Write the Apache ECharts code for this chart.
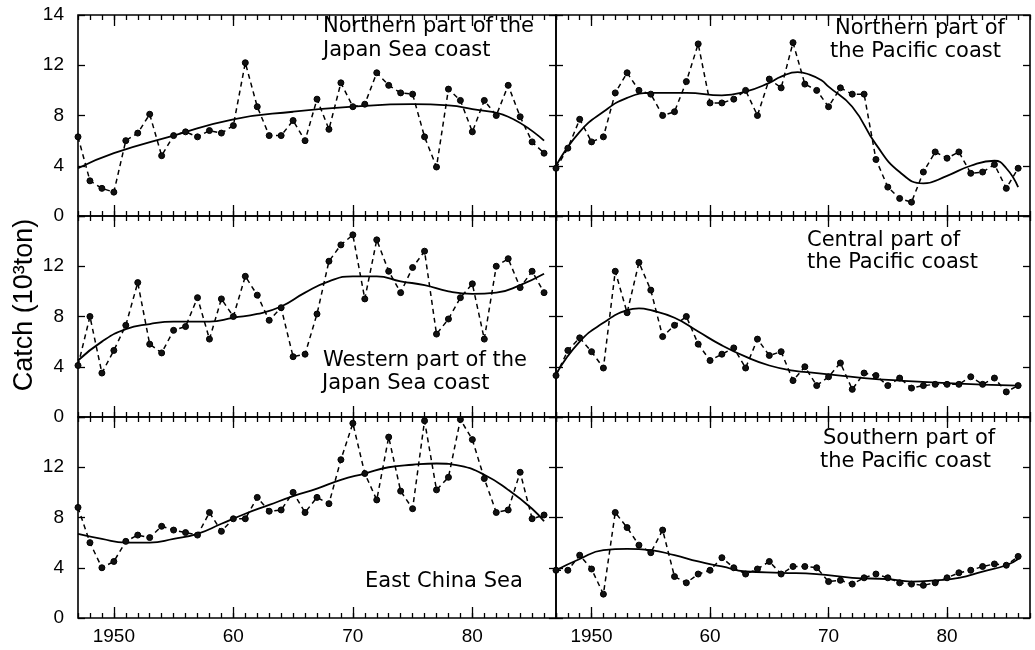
<!DOCTYPE html>
<html>
<head>
<meta charset="utf-8">
<title>Catch by region</title>
<script src="https://cdn.jsdelivr.net/npm/echarts@6/dist/echarts.min.js"></script>
<style>
  html, body { margin: 0; padding: 0; background: #fff; }
  #chart { width: 1035px; height: 650px; }
</style>
</head>
<body>
<div id="chart"></div>
<script>
// Years of the annual catch records
const years = [1947, 1948, 1949, 1950, 1951, 1952, 1953, 1954, 1955, 1956,
  1957, 1958, 1959, 1960, 1961, 1962, 1963, 1964, 1965, 1966,
  1967, 1968, 1969, 1970, 1971, 1972, 1973, 1974, 1975, 1976,
  1977, 1978, 1979, 1980, 1981, 1982, 1983, 1984, 1985, 1986];

// Annual catch (10^3 ton)
const northJapanSea = [6.3, 2.8, 2.2, 1.9, 6.0, 6.6, 8.1, 4.8, 6.4, 6.7,
  6.3, 6.8, 6.6, 7.2, 12.2, 8.7, 6.4, 6.4, 7.6, 6.0,
  9.3, 6.9, 10.6, 8.7, 8.9, 11.4, 10.4, 9.8, 9.7, 6.3,
  3.9, 10.1, 9.2, 6.7, 9.2, 8.0, 10.4, 7.9, 5.9, 5.0];
const northPacific = [3.8, 5.4, 7.7, 5.9, 6.3, 9.8, 11.4, 10.0, 9.7, 8.0,
  8.3, 10.7, 13.7, 9.0, 9.0, 9.3, 10.0, 8.0, 10.9, 10.2,
  13.8, 10.5, 10.0, 8.7, 10.2, 9.7, 9.7, 4.5, 2.3, 1.4,
  1.1, 3.5, 5.1, 4.6, 5.1, 3.4, 3.5, 4.1, 2.2, 3.8];
const westJapanSea = [4.1, 8.0, 3.5, 5.3, 7.3, 10.7, 5.8, 5.1, 6.9, 7.2,
  9.5, 6.2, 9.4, 8.0, 11.2, 9.7, 7.7, 8.7, 4.8, 5.0,
  8.2, 12.4, 13.7, 14.5, 9.4, 14.1, 11.6, 9.9, 11.9, 13.2,
  6.6, 7.8, 9.5, 10.6, 6.2, 12.0, 12.6, 10.3, 11.6, 9.9];
const centralPacific = [3.3, 5.3, 6.3, 5.2, 3.9, 11.6, 8.3, 12.3, 10.1, 6.4,
  7.3, 8.0, 5.8, 4.5, 5.0, 5.5, 3.9, 6.2, 4.9, 5.2,
  2.9, 4.0, 2.5, 3.2, 4.3, 2.2, 3.5, 3.3, 2.5, 3.1,
  2.3, 2.5, 2.6, 2.6, 2.6, 3.2, 2.6, 3.1, 2.0, 2.5];
const eastChinaSea = [8.8, 6.0, 4.0, 4.5, 6.1, 6.6, 6.4, 7.3, 7.0, 6.8,
  6.6, 8.4, 6.9, 7.9, 7.9, 9.6, 8.5, 8.6, 10.0, 8.4,
  9.6, 9.1, 12.6, 15.5, 11.5, 9.4, 14.4, 10.1, 8.7, 15.7,
  10.2, 11.2, 15.8, 14.2, 11.1, 8.4, 8.6, 11.6, 7.9, 8.2];
const southPacific = [3.8, 3.8, 5.0, 3.9, 1.9, 8.4, 7.2, 5.8, 5.2, 7.0,
  3.3, 2.8, 3.5, 3.8, 4.8, 4.0, 3.5, 3.9, 4.5, 3.5,
  4.1, 4.1, 4.0, 2.9, 3.0, 2.7, 3.2, 3.5, 3.2, 2.8,
  2.7, 2.6, 2.8, 3.2, 3.6, 3.8, 4.1, 4.3, 4.2, 4.9];

// Smoothed trend curves, sampled off the figure
const northJapanSeaTrendYears = [1947, 1950, 1955, 1960, 1965, 1970, 1975, 1978, 1980, 1983, 1986];
const northJapanSeaTrend = [3.8, 5.0, 6.4, 7.7, 8.3, 8.7, 8.9, 8.8, 8.5, 7.9, 6.0];
const northPacificTrendYears = [1947, 1949, 1951, 1953, 1955, 1958, 1961, 1963, 1965, 1966, 1967.4, 1968.4, 1969.4, 1970, 1972, 1974, 1976, 1978, 1980, 1982, 1984, 1985, 1986];
const northPacificTrend = [4.0, 6.7, 8.3, 9.4, 9.8, 9.8, 9.6, 9.9, 10.6, 11.1, 11.45, 11.25, 10.8, 10.3, 8.7, 5.7, 3.5, 2.6, 3.2, 4.0, 4.4, 3.8, 2.3];
const westJapanSeaTrendYears = [1947, 1949, 1951, 1953, 1955, 1958, 1960, 1962, 1964, 1966, 1968, 1970, 1972, 1974, 1976, 1978, 1980, 1982, 1984, 1986];
const westJapanSeaTrend = [4.5, 6.0, 7.0, 7.4, 7.6, 7.6, 7.9, 8.2, 8.8, 9.9, 10.8, 11.2, 11.2, 10.8, 10.5, 10.0, 9.8, 9.9, 10.5, 11.4];
const centralPacificTrendYears = [1947, 1949, 1951, 1953, 1954, 1955, 1957, 1959, 1961, 1963, 1965, 1967, 1969, 1971, 1973, 1976, 1980, 1986];
const centralPacificTrend = [3.4, 6.0, 7.5, 8.5, 8.65, 8.5, 7.9, 6.8, 5.7, 4.8, 4.1, 3.7, 3.5, 3.3, 3.1, 2.9, 2.7, 2.5];
const eastChinaSeaTrendYears = [1947, 1949, 1951, 1953, 1955, 1957, 1959, 1961, 1963, 1965, 1967, 1969, 1971, 1973, 1975, 1977, 1979, 1981, 1983, 1985, 1986];
const eastChinaSeaTrend = [6.7, 6.3, 6.0, 6.0, 6.3, 6.7, 7.5, 8.3, 9.0, 9.7, 10.3, 11.0, 11.5, 12.0, 12.2, 12.3, 12.1, 11.4, 10.2, 8.7, 7.7];
const southPacificTrendYears = [1947, 1949, 1951, 1953, 1955, 1957, 1959, 1961, 1963, 1966, 1969, 1972, 1975, 1977, 1979, 1981, 1983, 1985, 1986];
const southPacificTrend = [3.8, 4.7, 5.4, 5.5, 5.4, 5.0, 4.5, 4.1, 3.7, 3.6, 3.5, 3.2, 3.1, 2.9, 3.0, 3.2, 3.7, 4.2, 4.7];

// Axis ticks and labels
const majorYears = [1950, 1960, 1970, 1980];

const zip = (xs, ys) => xs.map((x, i) => [x, ys[i]]);

const panels = [
  { col: 0, row: 0, obs: northJapanSea, tx: northJapanSeaTrendYears, ty: northJapanSeaTrend,
    title: [{ text: 'Northern part of the', x: 323, y: 28 }, { text: 'Japan Sea coast', x: 323, y: 52 }] },
  { col: 1, row: 0, obs: northPacific, tx: northPacificTrendYears, ty: northPacificTrend,
    title: [{ text: 'Northern part of', x: 835, y: 30 }, { text: 'the Pacific coast', x: 830, y: 53 }] },
  { col: 0, row: 1, obs: westJapanSea, tx: westJapanSeaTrendYears, ty: westJapanSeaTrend,
    title: [{ text: 'Western part of the', x: 323, y: 362 }, { text: 'Japan Sea coast', x: 322, y: 385 }] },
  { col: 1, row: 1, obs: centralPacific, tx: centralPacificTrendYears, ty: centralPacificTrend,
    title: [{ text: 'Central part of', x: 807, y: 242 }, { text: 'the Pacific coast', x: 807, y: 264 }] },
  { col: 0, row: 2, obs: eastChinaSea, tx: eastChinaSeaTrendYears, ty: eastChinaSeaTrend,
    title: [{ text: 'East China Sea', x: 365, y: 583 }] },
  { col: 1, row: 2, obs: southPacific, tx: southPacificTrendYears, ty: southPacificTrend,
    title: [{ text: 'Southern part of', x: 823, y: 440 }, { text: 'the Pacific coast', x: 820, y: 463 }] }
];

const colLeft = [78, 556];
const colWidth = [478, 474];
const rowTop = [15, 216, 417];
const rowHeight = 201;

const labelFont = { color: '#000', fontSize: 19, fontFamily: 'Liberation Sans, Arial, sans-serif' };
const tickStyle = { color: '#000', width: 1.3 };

const option = {
  animation: false,
  backgroundColor: '#fff',
  grid: [], xAxis: [], yAxis: [], series: [], graphic: []
};

panels.forEach((p, i) => {
  option.grid.push({
    left: colLeft[p.col], top: rowTop[p.row], width: colWidth[p.col], height: rowHeight,
    show: true, borderColor: '#000', borderWidth: 1.6, backgroundColor: 'transparent',
    containLabel: false, outerBoundsMode: 'none'
  });

  const xBase = { gridIndex: i, type: 'value', min: 1947, max: 1987, interval: 1,
    axisLine: { show: false }, splitLine: { show: false } };
  ['bottom', 'top'].forEach(pos => {
    // yearly minor ticks
    option.xAxis.push(Object.assign({}, xBase, {
      position: pos,
      axisTick: { inside: true, length: 5, lineStyle: tickStyle },
      axisLabel: { show: false }
    }));
    // decade ticks (and labels on the bottom row)
    option.xAxis.push(Object.assign({}, xBase, {
      position: pos,
      axisTick: { inside: true, length: 11, customValues: majorYears, lineStyle: tickStyle },
      axisLabel: Object.assign({
        show: pos === 'bottom' && p.row === 2,
        customValues: majorYears, margin: 9,
        formatter: v => (v === 1950 ? '1950' : String(v).slice(2))
      }, labelFont)
    }));
  });

  ['left', 'right'].forEach(pos => {
    option.yAxis.push({
      gridIndex: i, type: 'value', min: 0, max: 16, interval: 4, position: pos,
      axisLine: { show: false }, splitLine: { show: false },
      axisTick: { inside: true, length: 7, lineStyle: tickStyle },
      axisLabel: Object.assign({
        show: pos === 'left' && p.col === 0,
        margin: 14,
        formatter: v => (v === 16 ? (p.row === 0 ? '14' : '') : String(v))
      }, labelFont)
    });
  });

  option.series.push({
    type: 'line', xAxisIndex: i * 4, yAxisIndex: i * 2,
    data: zip(years, p.obs),
    symbol: 'circle', symbolSize: 6,
    itemStyle: { color: '#111', borderColor: '#000', borderWidth: 1 },
    lineStyle: { color: '#000', width: 1.5, type: [5, 4] },
    z: 3
  });
  option.series.push({
    type: 'line', xAxisIndex: i * 4, yAxisIndex: i * 2,
    data: zip(p.tx, p.ty),
    smooth: 0.5, showSymbol: false, symbol: 'none',
    lineStyle: { color: '#000', width: 1.8 },
    z: 2
  });

  p.title.forEach(t => {
    option.graphic.push({
      type: 'text', left: t.x, top: t.y - 12,
      style: { text: t.text, fill: '#000', fontSize: 21, fontFamily: 'DejaVu Sans, sans-serif' }
    });
  });
});

// Shared y-axis title
option.graphic.push({
  type: 'text', x: 25, y: 305, rotation: Math.PI / 2,
  style: {
    text: 'Catch (10³ton)', fill: '#000', fontSize: 27,
    fontFamily: 'Liberation Sans, Arial, sans-serif',
    textAlign: 'center', textVerticalAlign: 'middle'
  }
});

const chart = echarts.init(document.getElementById('chart'), null, { renderer: 'canvas' });
chart.setOption(option);
</script>
</body>
</html>
